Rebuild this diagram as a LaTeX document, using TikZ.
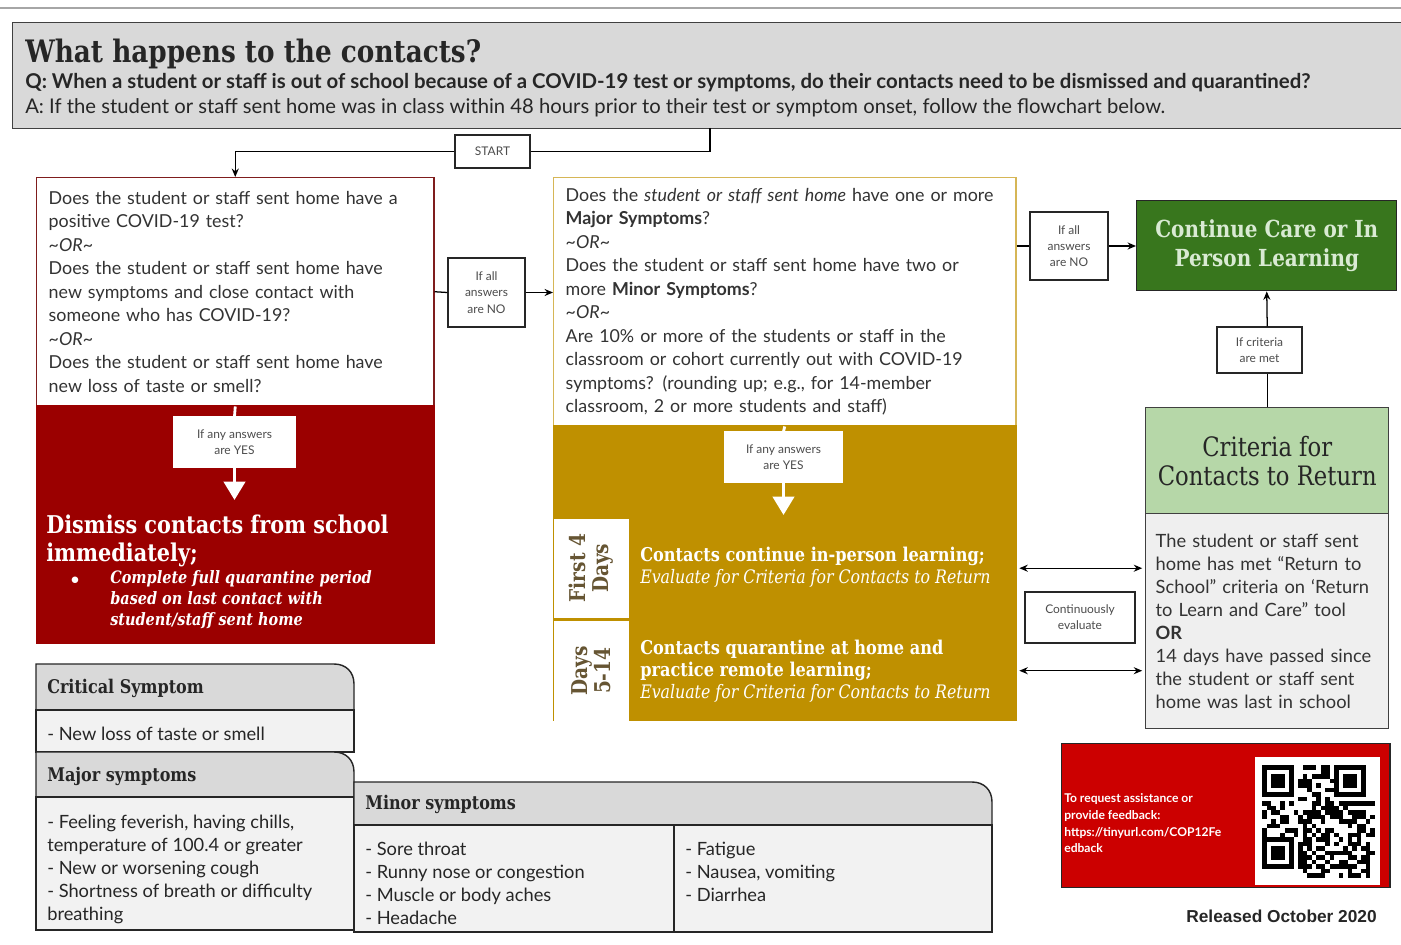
\documentclass[tikz,border=0pt]{standalone}
\usepackage{fontspec}
\setmainfont{Lato}
\newfontfamily\slab[FakeStretch=0.85]{DejaVu Serif}
\newfontfamily\arialfont{Liberation Sans}
\usetikzlibrary{arrows.meta, positioning}

\definecolor{hdrgrey}{HTML}{D9D9D9}
\definecolor{rowgrey}{HTML}{F2F2F2}
\definecolor{critgrey}{HTML}{EFEFEF}
\definecolor{dkred}{HTML}{9B0000}
\definecolor{qred}{HTML}{7F1D1D}
\definecolor{gold}{HTML}{BF9000}
\definecolor{qgold}{HTML}{D6B656}
\definecolor{dkgreen}{HTML}{38761D}
\definecolor{ltgreen}{HTML}{B6D7A8}
\definecolor{paleg}{HTML}{D9EAD3}
\definecolor{fbred}{HTML}{CC0000}
\definecolor{daytext}{HTML}{665533}

\begin{document}
\begin{tikzpicture}[x=0.025cm, y=-0.025cm,
    lbl/.style={draw=black!85, fill=white, line width=0.8pt, align=center,
      text=black!70, font=\fontsize{8.5}{11.5}\selectfont, inner sep=1pt},
    arr/.style={-{Stealth[length=6pt,width=5pt]}, line width=0.9pt},
    darr/.style={{Stealth[length=6pt,width=5pt]}-{Stealth[length=6pt,width=5pt]}, line width=0.9pt},
    warr/.style={white, line width=2.5pt, -{Triangle[length=13pt,width=15pt]}},
    box/.style={anchor=north west, line width=1pt, inner sep=0pt},
    body/.style={align=left, text=black!80, font=\fontsize{12.7}{16.7}\selectfont},
    thead/.style={anchor=west, inner sep=0pt, text=black!85, font=\slab\bfseries\fontsize{13.4}{15}\selectfont},
    trow/.style={anchor=north west, align=left, text=black!85, inner sep=0pt,
      font=\fontsize{13}{16.4}\selectfont},
    tshape/.style={draw=black!85, line width=1pt}]

    \useasboundingbox (0,0) rectangle (1401,945);
    \fill[white] (0,0) rectangle (1401,945);
    \draw[black!35, line width=2pt] (0,8) -- (1401,8);

    % header
    \node[box, draw=black!75, fill=hdrgrey, minimum width=34.725cm, minimum height=2.65cm] (head) at (12,22) {};
    \node[anchor=base west, inner sep=0pt, text=black!85, font=\slab\bfseries\fontsize{22}{26}\selectfont] (title) at (25,63) {What happens to the contacts?};
    \node[anchor=base west, inner sep=0pt, text=black!85, font=\bfseries\fontsize{14.5}{16}\selectfont] (qline) at (25,89) {Q: When a student or staff is out of school because of a COVID-19 test or symptoms, do their contacts need to be dismissed and quarantined?};
    \node[anchor=base west, inner sep=0pt, text=black!85, font=\fontsize{14.4}{16}\selectfont] (aline) at (25,114) {A: If the student or staff sent home was in class within 48 hours prior to their test or symptom onset, follow the flowchart below.};

    \node[lbl, minimum width=1.875cm, minimum height=0.825cm] (start) at (492.5,151.5) {START};
    \coordinate (s0) at (710,128);

    % first question
    \node[box, draw=qred, fill=white, minimum width=9.925cm, minimum height=5.7cm,
      text width=9.325cm, inner xsep=0.3cm, body] (q1) at (36,177) {Does the student or staff sent home have a\\
      positive COVID-19 test?\\
      \textit{\textasciitilde OR\textasciitilde}\\
      Does the student or staff sent home have\\
      new symptoms and close contact with\\
      someone who has COVID-19?\\
      \textit{\textasciitilde OR\textasciitilde}\\
      Does the student or staff sent home have\\
      new loss of taste or smell?};
    \node[box, draw=dkred, fill=dkred, minimum width=9.925cm, minimum height=5.95cm] (r1) at (36,405) {};
    \node[lbl, draw=white, minimum width=3.025cm, minimum height=1.25cm] (yes1) at (234.5,442) {If any answers\\are YES};
    \coordinate (w1) at (234.5,500);
    \node[anchor=north west, inner sep=0pt, align=left, text=white, font=\slab\bfseries\fontsize{17.4}{20}\selectfont] (dismiss) at (46,515) {Dismiss contacts from school\\immediately;};
    \node[anchor=base, inner sep=0pt, text=white, font=\fontsize{12}{15}\selectfont] (dot) at (75,584) {$\bullet$};
    \node[anchor=north west, inner sep=0pt, align=left, text=white, font=\slab\bfseries\itshape\fontsize{12.1}{15}\selectfont] (quar) at (110,570) {Complete full quarantine period\\based on last contact with\\student/staff sent home};

    \node[lbl, minimum width=1.925cm, minimum height=1.725cm] (no1) at (486.5,292.5) {If all\\answers\\are NO};

    % second question
    \node[box, draw=qgold, fill=white, minimum width=11.55cm, minimum height=6.2cm,
      text width=10.95cm, inner xsep=0.3cm, body] (q2) at (553,177) {Does the \textit{student or staff sent home} have one or more\\
      \textbf{Major Symptoms}?\\
      \textit{\textasciitilde OR\textasciitilde}\\
      Does the student or staff sent home have two or\\
      more \textbf{Minor Symptoms}?\\
      \textit{\textasciitilde OR\textasciitilde}\\
      Are 10\% or more of the students or staff in the\\
      classroom or cohort currently out with COVID-19\\
      symptoms? (rounding up; e.g., for 14-member\\
      classroom, 2 or more students and staff)};
    \node[box, draw=gold, fill=gold, minimum width=11.55cm, minimum height=7.375cm] (g1) at (553,425) {};
    \node[lbl, draw=white, minimum width=2.925cm, minimum height=1.25cm] (yes2) at (783.5,457) {If any answers\\are YES};
    \coordinate (w2) at (783.5,515);
    \node[box, fill=white, minimum width=1.875cm, minimum height=2.475cm] (d1) at (553,518) {};
    \node[box, fill=white, minimum width=1.875cm, minimum height=2.5cm] (d2) at (553,620) {};
    \node[rotate=90, align=center, text=daytext, font=\slab\bfseries\fontsize{15.5}{16}\selectfont] (d1t) at (d1) {First 4\\Days};
    \node[rotate=90, align=center, text=daytext, font=\slab\bfseries\fontsize{15.5}{16}\selectfont] (d2t) at (d2) {Days\\5-14};
    \node[anchor=west, inner sep=0pt, align=left, text=white, font=\slab\bfseries\fontsize{13.5}{15.5}\selectfont] (inperson) at (640,567) {Contacts continue in-person learning;\\
      \mdseries\itshape\fontsize{13.2}{15.5}\selectfont Evaluate for Criteria for Contacts to Return};
    \node[anchor=west, inner sep=0pt, align=left, text=white, font=\slab\bfseries\fontsize{13.5}{15.8}\selectfont] (remote) at (640,671) {Contacts quarantine at home and\\
      practice remote learning;\\
      \mdseries\itshape\fontsize{13.2}{15.8}\selectfont Evaluate for Criteria for Contacts to Return};

    % right column
    \node[lbl, minimum width=1.95cm, minimum height=1.7cm] (no2) at (1069,246) {If all\\answers\\are NO};
    \node[box, draw=black!85, fill=dkgreen, minimum width=6.5cm, minimum height=2.25cm,
      align=center, text=paleg, font=\slab\bfseries\fontsize{16.7}{21}\selectfont] (cont) at (1136,200) {Continue Care or In\\Person Learning};
    \node[lbl, minimum width=2.125cm, minimum height=1.15cm] (met) at (1259.5,350) {If criteria\\are met};
    \node[box, draw=black!75, fill=ltgreen, minimum width=6.075cm, minimum height=2.65cm,
      align=center, text=black!85, font=\slab\fontsize{19}{20.5}\selectfont] (crith) at (1145,407) {Criteria for\\Contacts to Return};
    \node[box, draw=black!75, fill=critgrey, minimum width=6.075cm, minimum height=5.375cm,
      text width=5.575cm, inner xsep=0.25cm, body, font=\fontsize{13}{16.4}\selectfont] (critb) at (1145,513) {The student or staff sent\\
      home has met “Return to\\
      School” criteria on ‘Return\\
      to Learn and Care” tool\\
      \textbf{OR}\\
      14 days have passed since\\
      the student or staff sent\\
      home was last in school};
    \node[lbl, minimum width=2.75cm, minimum height=1.275cm] (eval) at (1080,617.5) {Continuously\\evaluate};

    % connectors
    \draw[line width=0.9pt] (s0) |- (start.east);
    \draw[arr] (start.west) -| (q1.north);
    \draw[line width=0.9pt] (q1.east) -- (no1.west);
    \draw[arr] (no1.east) -- (no1.east -| q2.west);
    \draw[white, line width=2pt] (q1.south) -- (yes1.north);
    \draw[warr] (yes1.south) -- (w1);
    \draw[white, line width=2pt] (q2.south) -- (yes2.north);
    \draw[warr] (yes2.south) -- (w2);
    \draw[line width=0.9pt] (no2.west -| q2.east) -- (no2.west);
    \draw[arr] (no2.east) -- (cont.west |- no2.east);
    \draw[line width=0.9pt] (crith.north) -- (crith.north |- met.south);
    \draw[arr] (crith.north |- met.north) -- (cont.south);
    \draw[darr] ([xshift=2pt]d1.east -| g1.east) -- ([xshift=-2pt]d1.east -| critb.west);
    \draw[darr] ([xshift=2pt]d2.east -| g1.east) -- ([xshift=-2pt]d2.east -| critb.west);

    % symptom tables
    \draw[tshape, fill=hdrgrey] (36,710) -- (36,664) -- (334,664) .. controls (346,664) and (354,672) .. (354,684) -- (354,710) -- cycle;
    \draw[tshape, fill=rowgrey] (36,710) rectangle (354,752);
    \draw[tshape, fill=hdrgrey] (36,797) -- (36,752) -- (334,752) .. controls (346,752) and (354,760) .. (354,772) -- (354,797) -- cycle;
    \draw[tshape, fill=rowgrey] (36,797) rectangle (354,930);
    \draw[tshape, fill=hdrgrey] (354,825) -- (354,782) -- (972,782) .. controls (984,782) and (992,790) .. (992,802) -- (992,825) -- cycle;
    \draw[tshape, fill=rowgrey] (354,825) rectangle (992,932);
    \draw[tshape] (674,825) -- (674,932);
    \node[thead] (crit) at (47,688) {Critical Symptom};
    \node[trow, anchor=west] (critrow) at (47,734) {- New loss of taste or smell};
    \node[thead] (major) at (47,776) {Major symptoms};
    \node[trow] (majrow) at (47,815) {- Feeling feverish, having chills,\\
      temperature of 100.4 or greater\\
      - New or worsening cough\\
      - Shortness of breath or difficulty\\
      breathing};
    \node[thead] (minor) at (365,804) {Minor symptoms};
    \node[trow] (minrow1) at (365,842) {- Sore throat\\
      - Runny nose or congestion\\
      - Muscle or body aches\\
      - Headache};
    \node[trow] (minrow2) at (685,842) {- Fatigue\\
      - Nausea, vomiting\\
      - Diarrhea};

    % feedback box
    \node[box, draw=black!85, fill=fbred, minimum width=8.2cm, minimum height=3.6cm] (fb) at (1061,743) {};
    \fill[white] (1255,757) rectangle (1380,885);
    \node[anchor=north west, inner sep=0pt, align=left, text=white, font=\bfseries\fontsize{8.6}{12}\selectfont] (fbtext) at (1064,793) {To request assistance or\\
      provide feedback:\\
      https://tinyurl.com/COP12Fe\\
      edback};
    \pgfmathsetseed{12}
    \foreach \i in {0,...,24}{
      \foreach \j in {0,...,24}{
        \pgfmathparse{int(and(rnd<0.5, not(or(or(and(\i<8,\j<8),and(\i>16,\j<8)),and(\i<8,\j>16)))))}
        \ifnum\pgfmathresult=1
          \fill (1262+\i*4.5,765+\j*4.5) rectangle ++(4.5,4.5);
        \fi
      }
    }
    \foreach \qx/\qy in {1262/765, 1334/765, 1262/837}{
      \fill (\qx,\qy) rectangle ++(31.5,31.5);
      \fill[white] (\qx+4.5,\qy+4.5) rectangle ++(22.5,22.5);
      \fill (\qx+9,\qy+9) rectangle ++(13.5,13.5);
    }
    \node[anchor=base east, inner sep=0pt, text=black!85, font=\arialfont\bfseries\fontsize{12.3}{13}\selectfont] (released) at (1377,922) {Released October 2020};
\end{tikzpicture}
\end{document}
